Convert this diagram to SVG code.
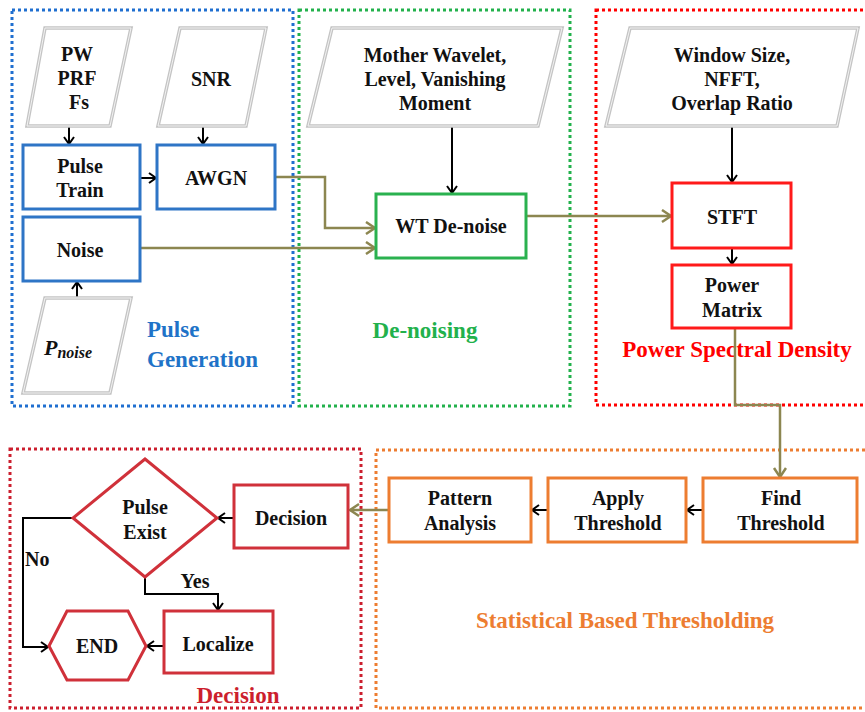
<svg xmlns="http://www.w3.org/2000/svg" width="865" height="712" viewBox="0 0 865 712">
<defs>
<marker id="ab" markerUnits="userSpaceOnUse" markerWidth="14" markerHeight="14" refX="9" refY="6" orient="auto"><path d="M2,1 L9,6 L2,11" fill="none" stroke="#000" stroke-width="2"/></marker>
<marker id="ao" markerUnits="userSpaceOnUse" markerWidth="16" markerHeight="16" refX="11" refY="7" orient="auto"><path d="M2,1 L11,7 L2,13" fill="none" stroke="#8c8650" stroke-width="2.5"/></marker>
</defs>
<style>
text{font-family:"Liberation Serif","Times New Roman",serif;font-weight:bold;text-anchor:middle;fill:#111}
.t{font-size:20px}
.lab{font-size:23px}
.cont{fill:none;stroke-width:3;stroke-dasharray:3 3}
.par{fill:#fff;stroke:#c4c4c4;stroke-width:3.5}
.par2{fill:none;stroke:#f2f2f2;stroke-width:1}
.bb{fill:#fff;stroke:#2e75c6;stroke-width:3}
.gb{fill:#fff;stroke:#2ab14f;stroke-width:3}
.rb{fill:#fff;stroke:#ff1a1a;stroke-width:3}
.db{fill:#fff;stroke:#d0313a;stroke-width:3}
.ob{fill:#fff;stroke:#ed7d31;stroke-width:3}
.ln{fill:none;stroke:#000;stroke-width:2}
.ol{fill:none;stroke:#8c8650;stroke-width:2.5}
</style>
<rect x="0" y="0" width="865" height="712" fill="#fff"/>
<g id="containers">
<rect class="cont" x="12" y="10" width="281" height="396" stroke="#1f6fd0"/>
<rect class="cont" x="299" y="10" width="271" height="396" stroke="#22b14c"/>
<rect class="cont" x="596" y="10" width="275" height="395" stroke="#ff0000"/>
<rect class="cont" x="10" y="449" width="351" height="259" stroke="#cc1f2e"/>
<rect class="cont" x="376" y="450" width="495" height="258" stroke="#ed7d31"/>
</g>
<g id="labels">
<text class="lab" x="147" y="337" style="text-anchor:start;fill:#1f73c8">Pulse</text>
<text class="lab" x="147" y="367" style="text-anchor:start;fill:#1f73c8">Generation</text>
<text class="lab" x="425" y="338" style="fill:#22b14c">De-noising</text>
<text class="lab" x="737" y="357" style="fill:#ff0000">Power Spectral Density</text>
<text class="lab" x="625" y="628" style="fill:#ed7d31">Statistical Based Thresholding</text>
<text class="lab" x="238" y="703" style="fill:#cc1f2e">Decision</text>
</g>
<g id="connectors">
<line class="ln" x1="69" y1="127" x2="69" y2="144" marker-end="url(#ab)"/>
<line class="ln" x1="203" y1="127" x2="203" y2="144" marker-end="url(#ab)"/>
<line class="ln" x1="140" y1="178" x2="156" y2="178" marker-end="url(#ab)"/>
<line class="ln" x1="77" y1="298" x2="77" y2="282" marker-end="url(#ab)"/>
<polyline class="ol" points="275,177 325,177 325,228 375,228" marker-end="url(#ao)"/>
<line class="ol" x1="140" y1="248" x2="375" y2="248" marker-end="url(#ao)"/>
<line class="ln" x1="452" y1="127" x2="452" y2="193" marker-end="url(#ab)"/>
<line class="ol" x1="526" y1="216" x2="671" y2="216" marker-end="url(#ao)"/>
<line class="ln" x1="732" y1="127" x2="732" y2="182" marker-end="url(#ab)"/>
<line class="ln" x1="732" y1="248" x2="732" y2="264" marker-end="url(#ab)"/>
<polyline class="ol" points="735,328 735,405 780,405 780,477" marker-end="url(#ao)"/>
<line class="ln" x1="703" y1="510" x2="687" y2="510" marker-end="url(#ab)"/>
<line class="ln" x1="548" y1="510" x2="532" y2="510" marker-end="url(#ab)"/>
<line class="ol" x1="389" y1="510" x2="350" y2="510" marker-end="url(#ao)"/>
<line class="ln" x1="234" y1="518" x2="218" y2="518" marker-end="url(#ab)"/>
<polyline class="ln" points="73,518 23,518 23,647 48,647" marker-end="url(#ab)"/>
<polyline class="ln" points="145,577 145,594 218,594 218,610" marker-end="url(#ab)"/>
<line class="ln" x1="164" y1="646" x2="147" y2="646" marker-end="url(#ab)"/>
<text class="t" x="25" y="566" style="text-anchor:start">No</text>
<text class="t" x="195" y="588">Yes</text>
</g>
<g id="n_pw">
<polygon class="par" points="45,28 131,28 110,126 27,126"/>
<polygon class="par2" points="45,28 131,28 110,126 27,126"/>
<text class="t" x="77" y="61">PW</text>
<text class="t" x="77" y="85">PRF</text>
<text class="t" x="79" y="109">Fs</text>
</g>
<g id="n_snr">
<polygon class="par" points="180,28 266,28 246,126 158,126"/>
<polygon class="par2" points="180,28 266,28 246,126 158,126"/>
<text class="t" x="211" y="86">SNR</text>
</g>
<g id="n_pulsetrain">
<rect class="bb" x="23" y="145" width="117" height="64"/>
<text class="t" x="80" y="173">Pulse</text>
<text class="t" x="80" y="197">Train</text>
</g>
<g id="n_awgn">
<rect class="bb" x="157" y="145" width="118" height="64"/>
<text class="t" x="216" y="185">AWGN</text>
</g>
<g id="n_noise">
<rect class="bb" x="23" y="217" width="117" height="64"/>
<text class="t" x="80" y="257">Noise</text>
</g>
<g id="n_pnoise">
<polygon class="par" points="45,298 131,298 110,393 23,393"/>
<polygon class="par2" points="45,298 131,298 110,393 23,393"/>
<text x="44" y="355" style="text-anchor:start;font-style:italic;font-size:22px">P<tspan dy="3" font-size="16">noise</tspan></text>
</g>
<g id="n_mother">
<polygon class="par" points="332,28 562,28 538,126 308,126"/>
<polygon class="par2" points="332,28 562,28 538,126 308,126"/>
<text class="t" x="435" y="62">Mother Wavelet,</text>
<text class="t" x="435" y="86">Level, Vanishing</text>
<text class="t" x="435" y="110">Moment</text>
</g>
<g id="n_wt">
<rect class="gb" x="376" y="194" width="150" height="64"/>
<text class="t" x="451" y="233">WT De-noise</text>
</g>
<g id="n_window">
<polygon class="par" points="630,28 858,28 837,126 606,126"/>
<polygon class="par2" points="630,28 858,28 837,126 606,126"/>
<text class="t" x="732" y="62">Window Size,</text>
<text class="t" x="732" y="86">NFFT,</text>
<text class="t" x="732" y="110">Overlap Ratio</text>
</g>
<g id="n_stft">
<rect class="rb" x="672" y="183" width="119" height="65"/>
<text class="t" x="732" y="224">STFT</text>
</g>
<g id="n_power">
<rect class="rb" x="672" y="265" width="119" height="63"/>
<text class="t" x="732" y="292">Power</text>
<text class="t" x="732" y="317">Matrix</text>
</g>
<g id="n_find">
<rect class="ob" x="703" y="478" width="154" height="64"/>
<text class="t" x="781" y="505">Find</text>
<text class="t" x="781" y="530">Threshold</text>
</g>
<g id="n_apply">
<rect class="ob" x="548" y="478" width="138" height="64"/>
<text class="t" x="618" y="505">Apply</text>
<text class="t" x="618" y="530">Threshold</text>
</g>
<g id="n_pattern">
<rect class="ob" x="389" y="478" width="142" height="64"/>
<text class="t" x="460" y="505">Pattern</text>
<text class="t" x="460" y="530">Analysis</text>
</g>
<g id="n_decision">
<rect class="db" x="234" y="485" width="114" height="63"/>
<text class="t" x="291" y="525">Decision</text>
</g>
<g id="n_exist">
<polygon class="db" points="145,459 217,518 145,577 73,518"/>
<text class="t" x="145" y="514">Pulse</text>
<text class="t" x="145" y="539">Exist</text>
</g>
<g id="n_localize">
<rect class="db" x="164" y="611" width="109" height="62"/>
<text class="t" x="218" y="651">Localize</text>
</g>
<g id="n_end">
<polygon class="db" points="49,646 67,611 128,611 146,646 128,680 67,680"/>
<text class="t" x="97" y="653">END</text>
</g>
</svg>
